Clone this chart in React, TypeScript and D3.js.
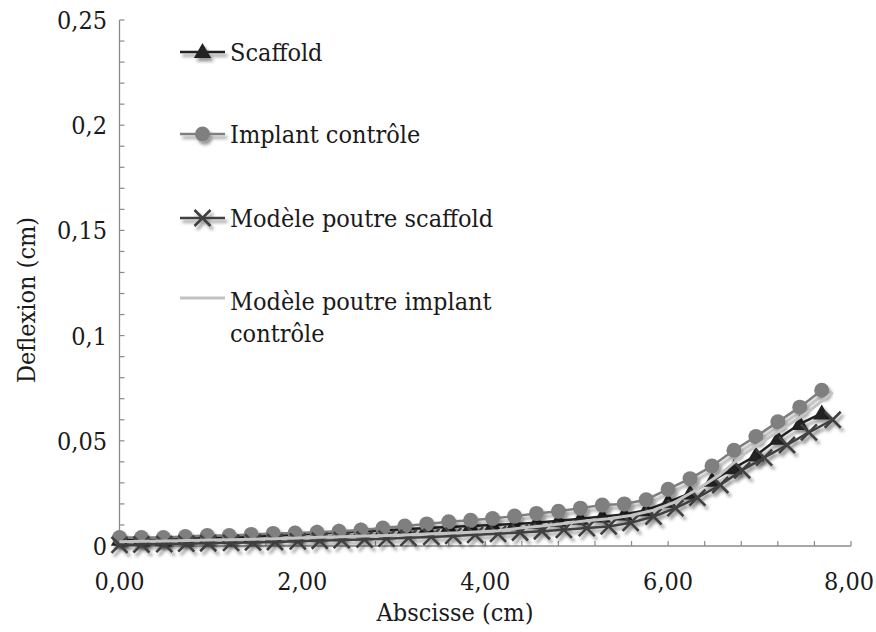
import React, { useEffect, useRef } from 'react';
import * as d3 from 'd3';

// abscissa of the measured points (cm)
const xExp = [0, 0.24, 0.48, 0.72, 0.96, 1.2, 1.44, 1.68, 1.92, 2.16, 2.4, 2.64, 2.88, 3.12, 3.36, 3.6, 3.84,
  4.08, 4.32, 4.56, 4.8, 5.04, 5.28, 5.52, 5.76, 6.0, 6.24, 6.48, 6.72, 6.96, 7.2, 7.44, 7.68];

// abscissa of the beam model points (cm)
const xModel = [0, 0.24, 0.49, 0.73, 0.97, 1.22, 1.46, 1.7, 1.95, 2.19, 2.43, 2.68, 2.92, 3.16, 3.41, 3.65, 3.89,
  4.14, 4.38, 4.62, 4.86, 5.11, 5.35, 5.59, 5.84, 6.08, 6.32, 6.57, 6.81, 7.05, 7.3, 7.54, 7.8];

const scaffold = [0.003, 0.003, 0.003, 0.0035, 0.004, 0.004, 0.0045, 0.005, 0.0055, 0.006, 0.0065, 0.007, 0.0075,
  0.008, 0.0085, 0.009, 0.0095, 0.01, 0.0105, 0.011, 0.012, 0.013, 0.014, 0.015, 0.017, 0.021, 0.025, 0.031,
  0.037, 0.043, 0.051, 0.058, 0.063];

const implant = [0.004, 0.004, 0.004, 0.0045, 0.005, 0.005, 0.0055, 0.006, 0.0062, 0.0065, 0.007, 0.0076, 0.0085,
  0.0095, 0.0105, 0.0115, 0.0122, 0.0131, 0.0142, 0.0155, 0.0165, 0.018, 0.0195, 0.02, 0.022, 0.027, 0.032, 0.038,
  0.0455, 0.052, 0.059, 0.066, 0.074];

const modelScaffold = [0.0005, 0.0007, 0.0009, 0.0011, 0.0013, 0.0015, 0.0017, 0.0019, 0.0022, 0.0025, 0.0028,
  0.0031, 0.0035, 0.0039, 0.0043, 0.0048, 0.0053, 0.0058, 0.0064, 0.007, 0.0077, 0.0085, 0.0093, 0.011, 0.014,
  0.018, 0.023, 0.029, 0.036, 0.042, 0.048, 0.054, 0.06];

const modelImplant = [0.002, 0.0022, 0.0024, 0.0026, 0.0028, 0.003, 0.0032, 0.0035, 0.0038, 0.0041, 0.0044,
  0.0047, 0.005, 0.0054, 0.0058, 0.0062, 0.0067, 0.0072, 0.0085, 0.0095, 0.0107, 0.012, 0.013, 0.0145, 0.017,
  0.021, 0.027, 0.034, 0.043, 0.05, 0.057, 0.064, 0.073];

const xTicks = [0, 2, 4, 6, 8];
const xTickLabels = ['0,00', '2,00', '4,00', '6,00', '8,00'];
const yTicks = [0, 0.05, 0.1, 0.15, 0.2, 0.25];
const yTickLabels = ['0', '0,05', '0,1', '0,15', '0,2', '0,25'];

const seriesNames = ['Scaffold', 'Implant contrôle', 'Modèle poutre scaffold', 'Modèle poutre implant contrôle'];

const FONT = "'DejaVu Serif Condensed', 'DejaVu Serif', serif";

const App: React.FC = () => {
  const ref = useRef<SVGSVGElement>(null);

  useEffect(() => {
    if (!ref.current) return;
    const svg = d3.select(ref.current);
    svg.selectAll('*').remove();

    const x = d3.scaleLinear().domain([0, 8]).range([119.5, 851]);
    const y = d3.scaleLinear().domain([0, 0.25]).range([546, 20]);

    // soft shadow like the Excel marker effect
    const defs = svg.append('defs');
    const f = defs.append('filter').attr('id', 'shadow')
      .attr('x', '-50%').attr('y', '-50%').attr('width', '200%').attr('height', '200%');
    f.append('feDropShadow')
      .attr('dx', 2.5).attr('dy', 3.5).attr('stdDeviation', 1.8)
      .attr('flood-color', '#000').attr('flood-opacity', 0.4);

    const root = svg.append('g').attr('fill', '#1a1a1a');
    root.style('font-family', FONT).style('font-size', '25px');

    // axes
    const axisColor = '#8a8a8a';
    root.append('line')
      .attr('x1', x(0)).attr('x2', x(0)).attr('y1', y(0.25)).attr('y2', y(0))
      .attr('stroke', axisColor).attr('stroke-width', 1.3);
    root.append('line')
      .attr('x1', x(0)).attr('x2', x(8)).attr('y1', y(0)).attr('y2', y(0))
      .attr('stroke', axisColor).attr('stroke-width', 1.3);

    root.append('g').selectAll('line')
      .data(d3.range(0, 26).map(i => i * 0.01))
      .enter().append('line')
      .attr('x1', x(0)).attr('x2', x(0) + 5)
      .attr('y1', d => y(d)).attr('y2', d => y(d))
      .attr('stroke', axisColor).attr('stroke-width', 1.2);

    root.append('g').selectAll('line')
      .data(d3.range(0, 21).map(i => i * 0.4))
      .enter().append('line')
      .attr('x1', d => x(d)).attr('x2', d => x(d))
      .attr('y1', y(0)).attr('y2', y(0) - 5)
      .attr('stroke', axisColor).attr('stroke-width', 1.2);

    root.append('g').selectAll('text')
      .data(yTicks)
      .enter().append('text')
      .attr('x', 107)
      .attr('y', d => y(d) + 9)
      .attr('text-anchor', 'end')
      .text((d, i) => yTickLabels[i]);

    // x labels centred on their tick, last one kept inside the picture
    root.append('g').selectAll('text')
      .data(xTicks)
      .enter().append('text')
      .attr('x', (d, i) => (i === xTicks.length - 1 ? 874 : x(d)))
      .attr('y', 590)
      .attr('text-anchor', (d, i) => (i === xTicks.length - 1 ? 'end' : 'middle'))
      .text((d, i) => xTickLabels[i]);

    root.append('text')
      .attr('x', 455).attr('y', 621)
      .attr('text-anchor', 'middle')
      .text('Abscisse (cm)');

    root.append('text')
      .attr('transform', 'translate(35,300) rotate(-90)')
      .attr('text-anchor', 'middle')
      .text('Deflexion (cm)');

    // marker painters
    const tri = d3.symbol().type(d3.symbolTriangle).size(130);
    const drawTriangle = (g: any, cx: number, cy: number) => {
      g.append('path').attr('d', tri()).attr('transform', `translate(${cx},${cy + 1})`)
        .attr('fill', '#222');
    };
    const drawCircle = (g: any, cx: number, cy: number) => {
      g.append('circle').attr('cx', cx).attr('cy', cy).attr('r', 7.5).attr('fill', '#7f7f7f');
    };
    const drawCross = (g: any, cx: number, cy: number) => {
      const s = 8;
      g.append('path')
        .attr('d', `M${cx - s},${cy - s}L${cx + s},${cy + s}M${cx - s},${cy + s}L${cx + s},${cy - s}`)
        .attr('stroke', '#3f3f3f').attr('stroke-width', 2.6).attr('fill', 'none');
    };

    const line = d3.line<[number, number]>().x(d => x(d[0])).y(d => y(d[1]));

    const series = [
      { xs: xExp, ys: scaffold, color: '#222', width: 2.5, marker: drawTriangle },
      { xs: xExp, ys: implant, color: '#7f7f7f', width: 2.5, marker: drawCircle },
      { xs: xModel, ys: modelScaffold, color: '#3f3f3f', width: 2.5, marker: drawCross },
      { xs: xModel, ys: modelImplant, color: '#c3c3c3', width: 3, marker: null as any },
    ];

    const plot = root.append('g');
    series.forEach(s => {
      const pts = s.xs.map((v, i) => [v, s.ys[i]] as [number, number]);
      const g = plot.append('g').attr('filter', s.marker ? 'url(#shadow)' : null);
      g.append('path').attr('d', line(pts)).attr('fill', 'none')
        .attr('stroke', s.color).attr('stroke-width', s.width).attr('stroke-linejoin', 'round');
      if (s.marker) pts.forEach(p => s.marker(g, x(p[0]), y(p[1])));
    });

    // legend
    const legendRows = [52, 134, 218, 298];
    const legendBase = [61, 143, 227, 310];
    const legend = root.append('g');
    series.forEach((s, i) => {
      const g = legend.append('g').attr('filter', s.marker ? 'url(#shadow)' : null);
      g.append('line').attr('x1', 180).attr('x2', 225)
        .attr('y1', legendRows[i]).attr('y2', legendRows[i])
        .attr('stroke', s.color).attr('stroke-width', s.width);
      if (s.marker) s.marker(g, 202.5, legendRows[i]);
    });
    legend.selectAll('text.lbl')
      .data(seriesNames.slice(0, 3))
      .enter().append('text')
      .attr('class', 'lbl')
      .attr('x', 230).attr('y', (d, i) => legendBase[i])
      .text(d => d);
    const last = legend.append('text');
    last.append('tspan').attr('x', 230).attr('y', legendBase[3]).text('Modèle poutre implant');
    last.append('tspan').attr('x', 230).attr('y', legendBase[3] + 32).text('contrôle');
  }, []);

  return (
    <svg ref={ref} width={876} height={632}
      style={{ position: 'absolute', left: 0, top: 0, background: '#fff' }} />
  );
};

export default App;
